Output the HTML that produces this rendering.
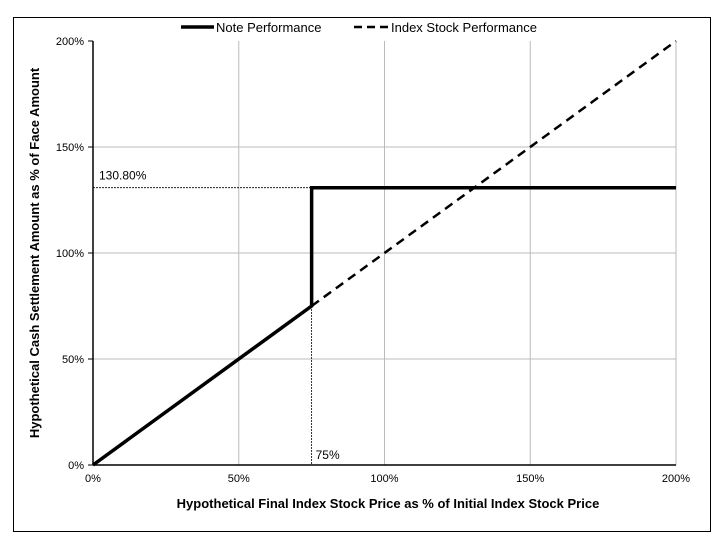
<!DOCTYPE html>
<html><head><meta charset="utf-8"><style>
body{margin:0;background:#fff;}
svg text{font-family:"Liberation Sans",Arial,sans-serif;}
</style></head><body>
<svg id="chart" width="725" height="540" xmlns="http://www.w3.org/2000/svg">
<rect x="13.5" y="17.5" width="697" height="514" fill="#fff" stroke="#000" stroke-width="1"/>
<g id="grid"></g><g id="ticks"></g><g id="series"></g>
<g>
<line x1="181" y1="27" x2="214" y2="27" stroke="#000" stroke-width="3.5"/>
<text x="216" y="32" font-size="13">Note Performance</text>
<line x1="354" y1="27" x2="388" y2="27" stroke="#000" stroke-width="2.5" stroke-dasharray="8,5"/>
<text x="391" y="32" font-size="13">Index Stock Performance</text>
</g>
<text x="388" y="508" font-size="13" font-weight="bold" text-anchor="middle">Hypothetical Final Index Stock Price as % of Initial Index Stock Price</text>
<text transform="translate(39,253) rotate(-90)" font-size="13" font-weight="bold" text-anchor="middle">Hypothetical Cash Settlement Amount as % of Face Amount</text>
</svg>
<script>
const xTicks=[0,50,100,150,200];
const yTicks=[0,50,100,150,200];
const noteX=[0,75,75,200];
const noteY=[0,75,130.8,130.8];
const indexX=[75,200];
const indexY=[75,200];
const capLevel=130.8;
const threshold=75;
const X0=93,X1=676,Y0=465,Y1=41;
const sx=v=>X0+(v-0)/(200)*(X1-X0);
const sy=v=>Y0-(v)/(200)*(Y0-Y1);
const NS="http://www.w3.org/2000/svg";
function mk(tag,attrs,parent,txt){const e=document.createElementNS(NS,tag);for(const k in attrs)e.setAttribute(k,attrs[k]);if(txt!==undefined)e.textContent=txt;document.getElementById(parent).appendChild(e);return e;}
xTicks.forEach(t=>{
  if(t>0){const g=mk('line',{x1:sx(t),x2:sx(t),y1:Y1,y2:Y0,stroke:'#bbb','stroke-width':1},'grid');
  }
  const l=mk('text',{x:sx(t),y:Y0+17,'font-size':11,'text-anchor':'middle'},'ticks',t+'%');
  
});
yTicks.forEach(t=>{
  if(t>0&&t<200){const g=mk('line',{x1:X0,x2:X1,y1:sy(t),y2:sy(t),stroke:'#bbb','stroke-width':1},'grid');
  }
  const tk=mk('line',{x1:X0-5,x2:X0,y1:sy(t),y2:sy(t),stroke:'#000'},'ticks');
  
  const l=mk('text',{x:X0-9,y:sy(t)+4,'font-size':11,'text-anchor':'end'},'ticks',t+'%');
  
});
let a=mk('line',{x1:X0,x2:X0,y1:Y1,y2:Y0,stroke:'#000','stroke-width':1.5},'ticks');

a=mk('line',{x1:X0,x2:X1,y1:Y0,y2:Y0,stroke:'#000','stroke-width':1.5},'ticks');

let r=mk('line',{x1:X0,x2:sx(threshold),y1:sy(capLevel),y2:sy(capLevel),stroke:'#000','stroke-width':0.8,'stroke-dasharray':'2,1'},'series');

r=mk('line',{x1:sx(threshold),x2:sx(threshold),y1:sy(threshold),y2:Y0,stroke:'#000','stroke-width':0.8,'stroke-dasharray':'2,1'},'series');

let t=mk('text',{x:X0+6,y:sy(capLevel)-8,'font-size':12},'series',capLevel.toFixed(2)+'%');

t=mk('text',{x:sx(threshold)+4,y:Y0-6,'font-size':12},'series',threshold+'%');

let p=mk('polyline',{points:indexX.map((v,i)=>sx(v)+','+sy(indexY[i])).join(' '),fill:'none',stroke:'#000','stroke-width':2.5,'stroke-dasharray':'9,6'},'series');

p=mk('polyline',{points:noteX.map((v,i)=>sx(v)+','+sy(noteY[i])).join(' '),fill:'none',stroke:'#000','stroke-width':3.5},'series');

</script>
</body></html>
